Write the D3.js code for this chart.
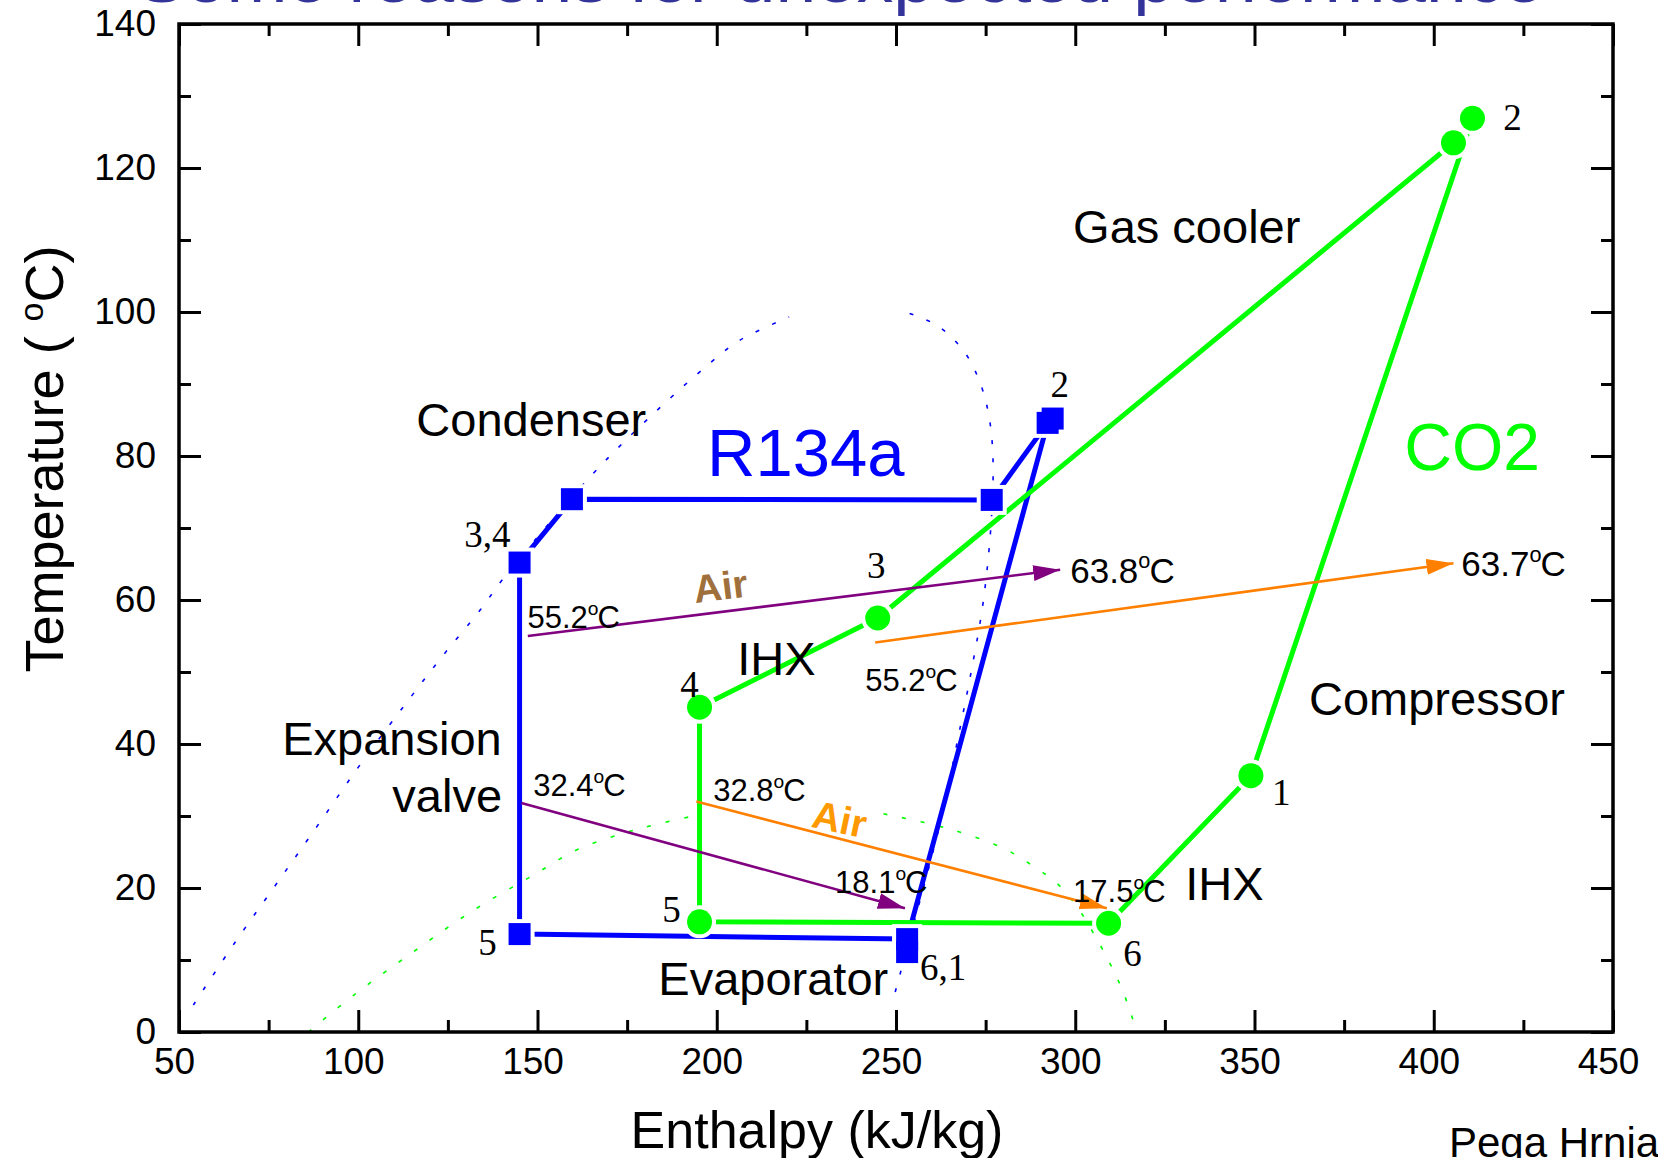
<!DOCTYPE html>
<html>
<head>
<meta charset="utf-8">
<script src="https://cdn.jsdelivr.net/npm/d3@7"></script>
<style>
  body { margin: 0; background: #fff; }
  svg { display: block; }
  text { font-family: "Liberation Sans", Arial, sans-serif; fill: #000; }
  .pt { font-family: "Liberation Serif", "Times New Roman", serif; }
</style>
</head>
<body>
<div id="chart"></div>
<script>
// Ejes: entalpía (kJ/kg) y temperatura (°C)
const xTicks = [50, 100, 150, 200, 250, 300, 350, 400, 450];
const xMinor = [75, 125, 175, 225, 275, 325, 375, 425];
const yTicks = [0, 20, 40, 60, 80, 100, 120, 140];
const yMinor = [10, 30, 50, 70, 90, 110, 130];

// Ciclo R134a [h, T]
const r134aPath = [[145.0, 13.6], [253.1, 12.9], [292.3, 84.6], [276.7, 73.9], [159.6, 74.0], [145.0, 65.2], [145.0, 13.6]];
const r134aMarkers = [[145.0, 65.2], [159.6, 74.0], [276.7, 73.9], [292.3, 84.6], [293.7, 85.2], [253.1, 12.9], [253.1, 11.1], [145.0, 13.6]];

// Ciclo CO2 [h, T]
const co2Path = [[195.2, 15.3], [309.3, 15.1], [349.0, 35.6], [410.8, 126.9], [405.5, 123.5], [244.9, 57.5], [195.2, 45.1], [195.2, 15.3]];
const co2Markers = [[410.8, 126.9], [405.5, 123.5], [244.9, 57.5], [195.2, 45.1], [195.2, 15.3], [309.3, 15.1], [349.0, 35.6]];

// Campanas de saturación (punteadas)
const r134aDomeLiq = [[54.0, 3.75], [65.7, 12.5], [77.3, 20.65], [89.4, 29.2], [101.5, 37.8], [114.0, 46.1], [123.8, 52.4], [134.0, 58.6], [140.5, 63.0], [165.6, 77.6], [182.4, 85.9], [198.6, 93.1], [206.5, 96.1], [220.2, 99.3]];
const r134aDomeVap = [[253.8, 99.8], [261.9, 98.0], [269.3, 94.3], [273.5, 90.1], [275.8, 85.9], [277.0, 80.4], [276.7, 72.0], [274.4, 60.0], [270.7, 49.3], [267.0, 40.1], [263.2, 30.8], [251.2, 8.15], [248.9, 4.0]];
const co2DomeLiq = [[86.1, 0], [98.7, 5.1], [115.4, 11.15], [132.1, 16.9], [148.9, 21.8], [161.0, 25.3], [174.0, 27.6], [182.4, 28.75], [192.6, 29.9]];
const co2DomeVap = [[246.5, 30.3], [264.2, 28.3], [280.0, 25.5], [288.4, 23.0], [294.9, 20.65], [300.5, 17.4], [305.1, 13.7], [309.7, 9.5], [313.5, 5.4], [317.2, 0]];

// Flechas de aire [inicio, fin]
const airPurple = [[[147.3, 55.0], [295.8, 64.2]], [[145.5, 31.8], [252.5, 17.2]]];
const airOrange = [[[244.2, 54.1], [405.5, 65.1]], [[194.3, 32.0], [308.8, 17.2]]];

// Etiquetas de temperatura del aire [texto, h, T, tamaño]
const airTemps = [["55.2", 147.2, 56.1, 31], ["63.8", 298.6, 62.4, 35], ["55.2", 241.4, 47.4, 31], ["63.7", 407.7, 63.3, 35],
                  ["32.4", 148.8, 32.8, 31], ["32.8", 199.0, 32.1, 31], ["18.1", 233.0, 19.3, 31], ["17.5", 299.4, 18.1, 31]];

// Nombres de componentes [texto, h, T]
const components = [["Gas cooler", 299.4, 109.6], ["Condenser", 116.2, 82.8], ["IHX", 205.7, 49.6], ["Compressor", 365.2, 44.0],
                    ["Expansion", 78.8, 38.5], ["valve", 109.5, 30.5], ["Evaporator", 183.7, 5.1], ["IHX", 330.7, 18.4]];

// Números de estado [texto, h, T]
const stateLabels = [["2", 419.4, 125.3], ["2", 293.1, 88.2], ["3,4", 129.6, 67.4], ["3", 241.9, 63.1], ["4", 189.8, 46.5],
                     ["5", 184.8, 15.3], ["5", 133.5, 10.7], ["6,1", 256.7, 7.2], ["6", 313.4, 9.2], ["1", 354.9, 31.5]];

const width = 1658;
const height = 1158;
const blue = "#0000ff", green = "#00ff00", purple = "#800080", orange = "#ff8000";

const svg = d3.select("#chart").append("svg")
    .attr("width", width)
    .attr("height", height);

const x = d3.scaleLinear().domain([50, 450]).range([179, 1613]);
const y = d3.scaleLinear().domain([0, 140]).range([1032, 24]);

// Título recortado arriba
svg.append("text")
    .attr("x", 137).attr("y", 2)
    .attr("textLength", 1407).attr("lengthAdjust", "spacingAndGlyphs")
    .style("font-size", "68px").style("fill", "#333399")
    .text("Some reasons for unexpected performance");

// Flecha
const defs = svg.append("defs");
[["arrPurple", purple], ["arrOrange", orange]].forEach(([id, c]) => {
    defs.append("marker")
        .attr("id", id)
        .attr("markerUnits", "userSpaceOnUse")
        .attr("markerWidth", 27).attr("markerHeight", 16)
        .attr("refX", 27).attr("refY", 8)
        .attr("orient", "auto")
        .append("path").attr("d", "M0,0 L27,8 L0,16 Z").attr("fill", c);
});

const line = d3.line().x(d => x(d[0])).y(d => y(d[1]));
const curve = d3.line().x(d => x(d[0])).y(d => y(d[1])).curve(d3.curveCatmullRom);

// Campanas
[[r134aDomeLiq, blue, "4,14"], [r134aDomeVap, blue, "4,14"], [co2DomeLiq, green, "4,15"], [co2DomeVap, green, "4,15"]].forEach(([d, c, dash]) => {
    svg.append("path").datum(d)
        .attr("d", curve)
        .attr("fill", "none")
        .attr("stroke", c)
        .attr("stroke-width", 1.6)
        .attr("stroke-dasharray", dash);
});

// Ciclos
svg.append("path").datum(r134aPath).attr("d", line)
    .attr("fill", "none").attr("stroke", blue).attr("stroke-width", 5).attr("stroke-linejoin", "round");
svg.append("path").datum(co2Path).attr("d", line)
    .attr("fill", "none").attr("stroke", green).attr("stroke-width", 5).attr("stroke-linejoin", "round");

// Marcadores con halo blanco (huecos estilo Origin)
const sq = 22, rad = 12.5;
const halo = svg.append("g");
const marks = svg.append("g");
halo.selectAll("rect").data(r134aMarkers).enter().append("rect")
    .attr("x", d => x(d[0]) - sq / 2).attr("y", d => y(d[1]) - sq / 2)
    .attr("width", sq).attr("height", sq)
    .attr("fill", "#fff").attr("stroke", "#fff").attr("stroke-width", 8);
halo.selectAll("circle").data(co2Markers).enter().append("circle")
    .attr("cx", d => x(d[0])).attr("cy", d => y(d[1])).attr("r", rad)
    .attr("fill", "#fff").attr("stroke", "#fff").attr("stroke-width", 8);
marks.selectAll("rect").data(r134aMarkers).enter().append("rect")
    .attr("x", d => x(d[0]) - sq / 2).attr("y", d => y(d[1]) - sq / 2)
    .attr("width", sq).attr("height", sq)
    .attr("fill", blue);
marks.selectAll("circle").data(co2Markers).enter().append("circle")
    .attr("cx", d => x(d[0])).attr("cy", d => y(d[1])).attr("r", rad)
    .attr("fill", green);

// Flechas de aire
[[airPurple, purple, "arrPurple"], [airOrange, orange, "arrOrange"]].forEach(([arr, c, id]) => {
    svg.selectAll(null).data(arr).enter().append("line")
        .attr("x1", d => x(d[0][0])).attr("y1", d => y(d[0][1]))
        .attr("x2", d => x(d[1][0])).attr("y2", d => y(d[1][1]))
        .attr("stroke", c).attr("stroke-width", 2.6)
        .attr("marker-end", `url(#${id})`);
});

// Ejes
const axG = svg.append("g").attr("class", "axes");
function styleAxis(g) {
    g.select(".domain").remove();
    g.selectAll(".tick line").attr("stroke", "#000").attr("stroke-width", 3);
    g.selectAll(".tick text").style("font-size", "37px").style("font-family", '"Liberation Sans", Arial, sans-serif').attr("fill", "#000");
}
axG.append("g").attr("transform", `translate(0,${y(0)})`)
    .call(d3.axisBottom(x).tickValues(xTicks).tickSize(-22).tickPadding(16))
    .call(styleAxis)
    .call(g => g.selectAll(".tick text").attr("dx", -5));
axG.append("g").attr("transform", `translate(0,${y(0)})`)
    .call(d3.axisBottom(x).tickValues(xMinor).tickSize(-12).tickFormat(""))
    .call(styleAxis);
axG.append("g").attr("transform", `translate(0,${y(140)})`)
    .call(d3.axisTop(x).tickValues(xTicks).tickSize(-22).tickFormat(""))
    .call(styleAxis);
axG.append("g").attr("transform", `translate(0,${y(140)})`)
    .call(d3.axisTop(x).tickValues(xMinor).tickSize(-12).tickFormat(""))
    .call(styleAxis);
axG.append("g").attr("transform", `translate(${x(50)},0)`)
    .call(d3.axisLeft(y).tickValues(yTicks).tickSize(-22).tickPadding(23))
    .call(styleAxis);
axG.append("g").attr("transform", `translate(${x(50)},0)`)
    .call(d3.axisLeft(y).tickValues(yMinor).tickSize(-12).tickFormat(""))
    .call(styleAxis);
axG.append("g").attr("transform", `translate(${x(450)},0)`)
    .call(d3.axisRight(y).tickValues(yTicks).tickSize(-22).tickFormat(""))
    .call(styleAxis);
axG.append("g").attr("transform", `translate(${x(450)},0)`)
    .call(d3.axisRight(y).tickValues(yMinor).tickSize(-12).tickFormat(""))
    .call(styleAxis);

// Marco
svg.append("rect")
    .attr("x", x(50)).attr("y", y(140))
    .attr("width", x(450) - x(50)).attr("height", y(0) - y(140))
    .attr("fill", "none").attr("stroke", "#000").attr("stroke-width", 3.5);

// Títulos de ejes
svg.append("text")
    .attr("x", 817).attr("y", 1148)
    .attr("text-anchor", "middle")
    .style("font-size", "52px")
    .text("Enthalpy (kJ/kg)");

const yTitle = svg.append("text")
    .attr("transform", "translate(63,459) rotate(-90)")
    .attr("text-anchor", "middle")
    .style("font-size", "54px");
yTitle.append("tspan").text("Temperature ( ");
yTitle.append("tspan").attr("dy", -20).style("font-size", "34px").text("o");
yTitle.append("tspan").attr("dy", 20).text("C)");

// Etiquetas de temperatura del aire
airTemps.forEach(([t, h, T, s]) => {
    const el = svg.append("text").attr("x", x(h)).attr("y", y(T)).style("font-size", s + "px");
    el.append("tspan").text(t);
    el.append("tspan").attr("dy", -0.42 * s).style("font-size", (0.62 * s) + "px").text("o");
    el.append("tspan").attr("dy", 0.42 * s).attr("dx", -1).text("C");
});

// "Air"
svg.append("text")
    .attr("transform", `translate(${x(194.0)},${y(59.6)}) rotate(-7)`)
    .style("font-size", "39px").style("font-weight", "bold").style("fill", "#a0703c")
    .text("Air");
svg.append("text")
    .attr("transform", `translate(${x(226.1)},${y(28.5)}) rotate(12)`)
    .style("font-size", "39px").style("font-weight", "bold").style("fill", "#ff9900")
    .text("Air");

// Componentes
svg.selectAll(null).data(components).enter().append("text")
    .attr("x", d => x(d[1])).attr("y", d => y(d[2]))
    .style("font-size", "47px")
    .text(d => d[0]);

// Nombres de refrigerantes
svg.append("text").attr("x", x(197.3)).attr("y", y(77.2))
    .style("font-size", "67px").style("fill", blue).text("R134a");
svg.append("text").attr("x", x(391.8)).attr("y", y(78.1))
    .style("font-size", "66px").style("fill", green).text("CO2");

// Números de estado
svg.selectAll(null).data(stateLabels).enter().append("text")
    .attr("class", "pt")
    .attr("x", d => x(d[1])).attr("y", d => y(d[2]))
    .style("font-size", "37px")
    .style("font-family", '"Liberation Serif", "Times New Roman", serif')
    .text(d => d[0]);

// Autor (recortado)
svg.append("text")
    .attr("x", 1449).attr("y", 1157)
    .style("font-size", "42px")
    .text("Pega Hrnjak");
</script>
</body>
</html>
